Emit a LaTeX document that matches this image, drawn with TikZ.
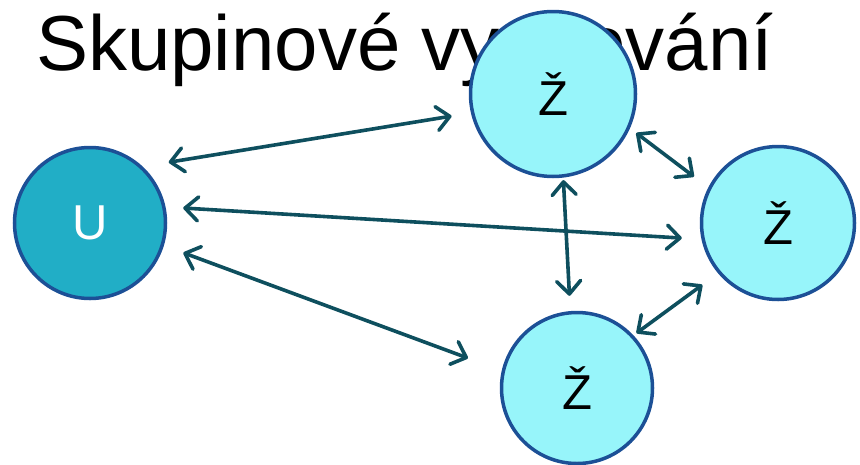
\documentclass[tikz,border=0pt]{standalone}
\usepackage{fontspec}
\setmainfont{Liberation Sans}
\usetikzlibrary{arrows.meta}
\definecolor{ucol}{RGB}{33,174,198}
\definecolor{zcol}{RGB}{151,245,250}
\definecolor{bcol}{RGB}{28,80,150}
\definecolor{acol}{RGB}{14,79,94}
\tikzset{
  member/.style={circle,draw=bcol,line width=3.5pt,fill=zcol,inner sep=0pt,
    font=\fontsize{49}{50}\selectfont,text=black},
  teacher/.style={member,fill=ucol,text=white},
  link/.style={draw=acol,line width=3.6pt,line cap=round,
    {Straight Barb[length=13pt,width=24pt,round]}-{Straight Barb[length=13pt,width=24pt,round]}}
}
\begin{document}
\begin{tikzpicture}[x=1pt,y=-1pt]
\useasboundingbox (0,0) rectangle (860,464);
\node[anchor=base west,inner sep=0pt,font=\fontsize{78}{80}\selectfont] (title) at (36,70) {Skupinové vyučování};
\node[teacher,minimum size=151pt] (U) at (90,223) {U};
\node[member,minimum size=165pt] (T) at (553,94) {Ž};
\node[member,minimum size=153pt] (R) at (778,223) {Ž};
\node[member,minimum size=151pt] (B) at (577,388) {Ž};
\draw[link,shorten <=26.4pt,shorten >=19.6pt] (U.47.6) -- (T.193.7);
\draw[link,shorten <=17.7pt,shorten >=19.7pt] (U.12.1) -- (R.192);
\draw[link,shorten <=20.7pt,shorten >=36pt] (U.-17.2) -- (B.167.7);
\draw[link,shorten <=2.5pt,shorten >=15.3pt] (T.-83.95) -- (B.95.3);
\draw[link,shorten <=7.9pt,shorten >=18pt] (T.-24) -- (R.153.3);
\draw[link,shorten <=19.5pt,shorten >=3.7pt] (R.-140.7) -- (B.43.3);
\end{tikzpicture}
\end{document}
